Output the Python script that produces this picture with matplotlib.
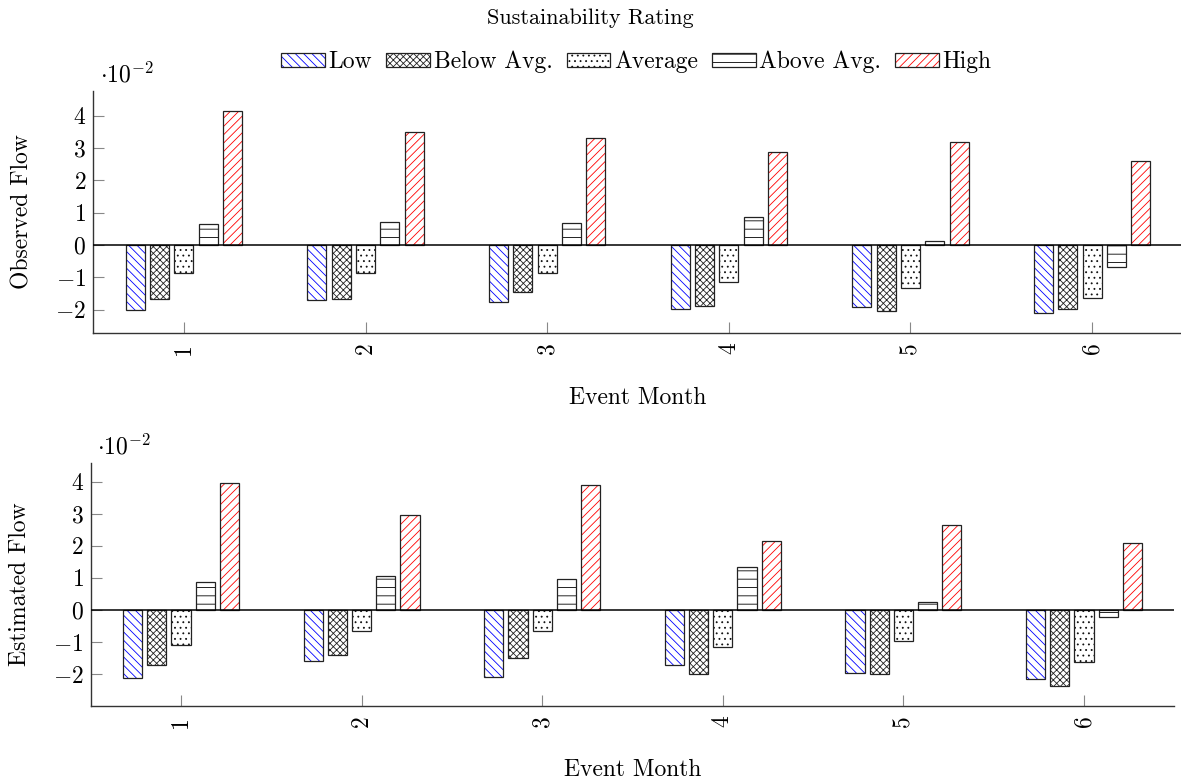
import numpy as np
import matplotlib
matplotlib.use("Agg")
import matplotlib.pyplot as plt
from matplotlib.patches import Patch
from matplotlib.legend_handler import HandlerTuple

plt.rcParams['font.family'] = ['cmr10', 'DejaVu Serif']
plt.rcParams['mathtext.fontset'] = 'cm'
plt.rcParams['axes.formatter.use_mathtext'] = True
plt.rcParams['hatch.linewidth'] = 0.6

# ---- data (values in units of 1e-2) ----
months = [1, 2, 3, 4, 5, 6]
month_labels = ["1", "2", "3", "4", "5", "6"]
series_names = ["Low", "Below Avg.", "Average", "Above Avg.", "High"]

obs_low = [-2.01, -1.71, -1.75, -1.98, -1.93, -2.10]
obs_below = [-1.66, -1.67, -1.47, -1.89, -2.03, -1.98]
obs_avg = [-0.87, -0.87, -0.87, -1.16, -1.32, -1.64]
obs_above = [0.66, 0.70, 0.67, 0.88, 0.13, -0.69]
obs_high = [4.14, 3.48, 3.32, 2.88, 3.18, 2.59]

est_low = [-2.13, -1.58, -2.09, -1.71, -1.96, -2.14]
est_below = [-1.72, -1.41, -1.50, -2.00, -1.99, -2.36]
est_avg = [-1.08, -0.66, -0.66, -1.15, -0.95, -1.62]
est_above = [0.87, 1.07, 0.97, 1.34, 0.26, -0.21]
est_high = [3.95, 2.95, 3.91, 2.14, 2.65, 2.10]

yticks = [-2, -1, 0, 1, 2, 3, 4]
ytick_labels = ["$-2$", "$-1$", "$0$", "$1$", "$2$", "$3$", "$4$"]

# ---- styles ----
hatches = ["\\\\\\\\", "xxxxx", "...", "--", "////"]
hatch_colors = ["blue", "#222222", "#111111", "black", "red"]
FS = 17
bar_w = 0.106
step = 0.134

fig = plt.figure(figsize=(11.81, 7.83), dpi=100)
ax1 = fig.add_axes([93/1181, 1-333/783, 1090/1181, 242/783])
ax2 = fig.add_axes([90.7/1181, 1-706/783, 1083.6/1181, 243/783])


def draw(ax, data, ylabel):
    x = np.array(months, dtype=float)
    for i, vals in enumerate(data):
        pos = x + (i - 2) * step
        ax.bar(pos, vals, width=bar_w, facecolor='white', edgecolor=hatch_colors[i],
               hatch=hatches[i], linewidth=0, zorder=2)
        ax.bar(pos, vals, width=bar_w, fill=False, edgecolor='#222222',
               linewidth=0.9, zorder=3)
    allv = np.concatenate([np.asarray(d) for d in data])
    lo, hi = allv.min(), allv.max()
    pad = 0.1 * (hi - lo)
    ax.set_ylim(lo - pad, hi + pad)
    ax.set_xlim(0.5, 6.5)
    ax.axhline(0, color='black', linewidth=1.1, zorder=4)
    for s in ['top', 'right']:
        ax.spines[s].set_visible(False)
    for s in ['left', 'bottom']:
        ax.spines[s].set_linewidth(1.0)
        ax.spines[s].set_color('#333333')
    ax.set_xticks(months)
    ax.set_xticklabels(month_labels, rotation=90, fontsize=FS)
    ax.set_yticks(yticks)
    ax.set_yticklabels(ytick_labels, fontsize=FS)
    ax.tick_params(axis='both', direction='in', length=8, width=0.8, color='#888888')
    ax.tick_params(axis='x', pad=7)
    ax.tick_params(axis='y', pad=5)
    ax.set_ylabel(ylabel, fontsize=FS)
    ax.yaxis.label.set_va('center')
    ax.yaxis.set_label_coords(-0.065, 0.5)
    ax.set_xlabel("Event Month", fontsize=FS)
    ax.xaxis.label.set_va('center')
    ax.text(0.006, 1.035, r"$\cdot 10^{-2}$", transform=ax.transAxes,
            fontsize=FS, va='baseline', ha='left')


draw(ax1, [obs_low, obs_below, obs_avg, obs_above, obs_high], "Observed Flow")
ax1.xaxis.set_label_coords(0.5, -0.268)
draw(ax2, [est_low, est_below, est_avg, est_above, est_high], "Estimated Flow")
ax2.xaxis.set_label_coords(0.5, -0.263)

handles = []
for i in range(5):
    h1 = Patch(facecolor='white', edgecolor=hatch_colors[i], hatch=hatches[i], linewidth=0)
    h2 = Patch(fill=False, edgecolor='#222222', linewidth=0.9)
    handles.append((h1, h2))
fig.legend(handles, series_names, handler_map={tuple: HandlerTuple(ndivide=1)},
           loc='center', bbox_to_anchor=(636.5/1181, 1-62/783), ncol=5,
           frameon=False, fontsize=FS, handlelength=1.85, handleheight=0.55,
           handletextpad=0.15, columnspacing=0.6, borderpad=0)
fig.text(590/1181, 1-18/783, "Sustainability Rating", fontsize=16, ha='center', va='center')

fig.savefig("out.png", dpi=100)
